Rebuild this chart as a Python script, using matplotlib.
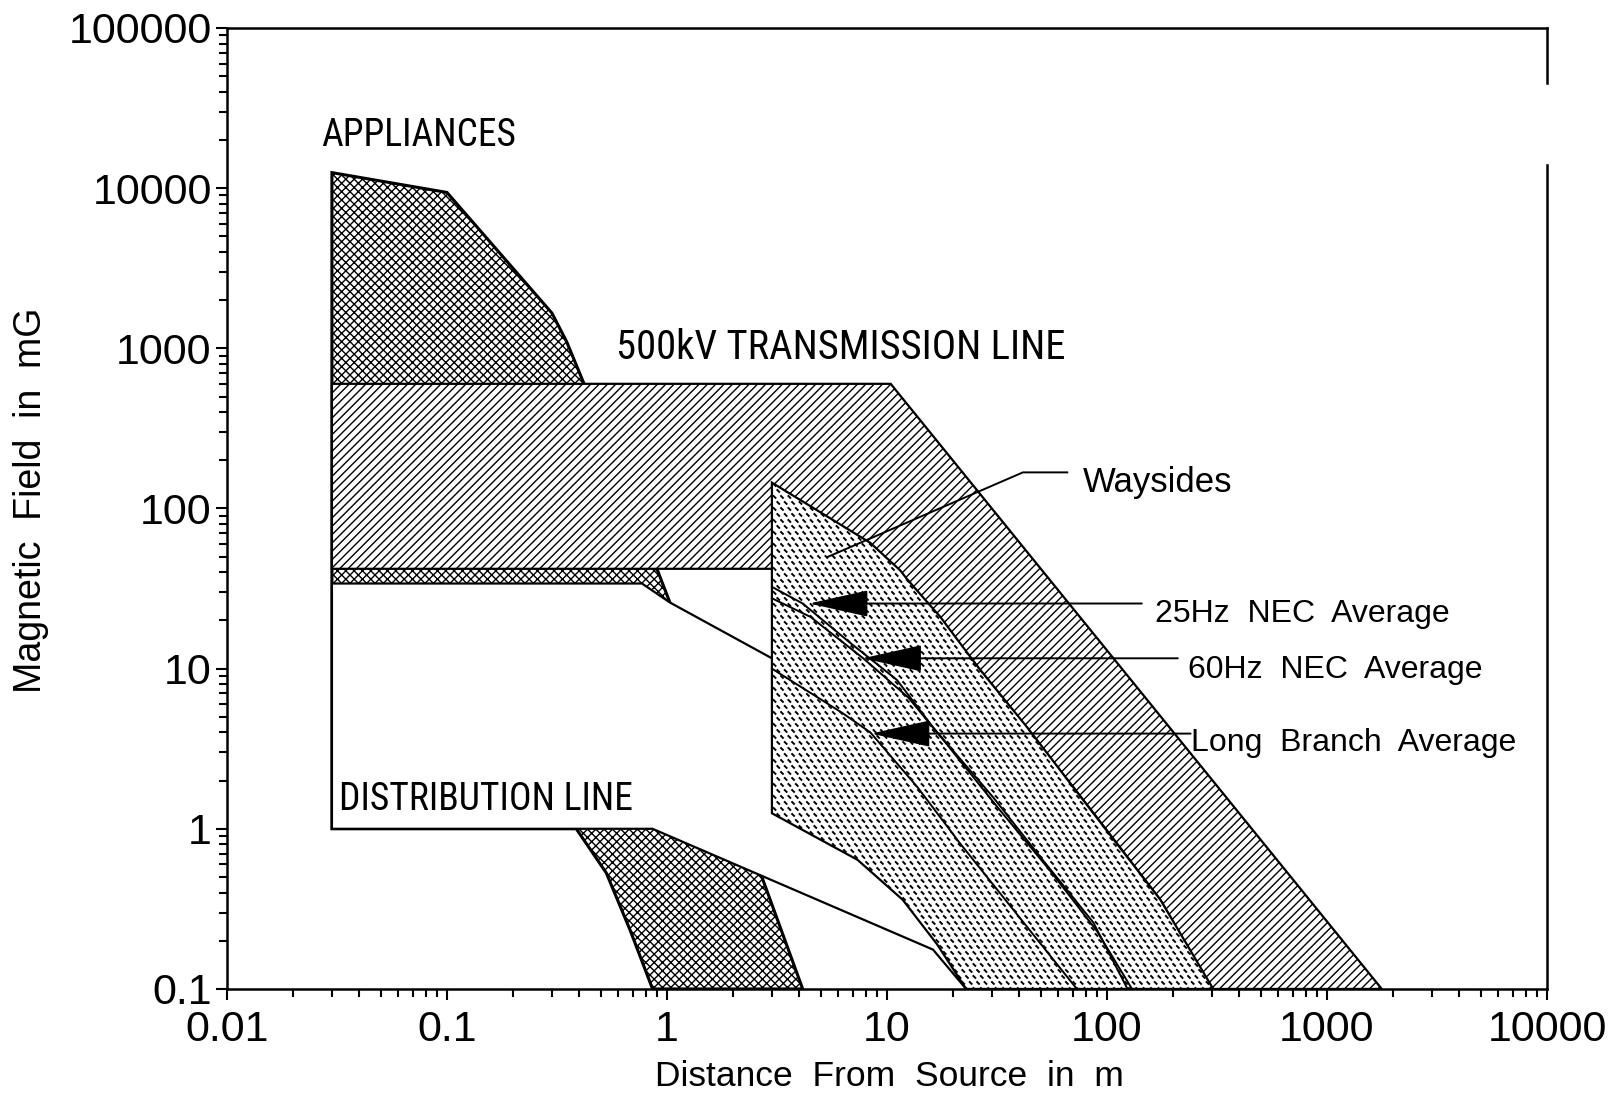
import numpy as np
import matplotlib
matplotlib.use("Agg")
import matplotlib.pyplot as plt
from matplotlib import font_manager
from matplotlib.collections import LineCollection

plt.rcParams['font.family'] = ['Liberation Sans', 'DejaVu Sans']
plt.rcParams['hatch.linewidth'] = 1.0

# field bands, distance in m, field in mG
app_x = [0.03, 0.1, 0.3, 0.35, 0.42, 0.6, 0.90, 1.03, 2.66, 4.14, 0.86, 0.68, 0.53, 0.387, 0.03]
app_y = [12500, 9400, 1660, 1100, 600, 150, 42, 26, 0.53, 0.1, 0.1, 0.233, 0.53, 1.0, 1.0]

trans_x = [0.03, 10.4, 1775, 300, 175, 87, 43, 26.4, 12.4, 8, 0.03]
trans_y = [600, 600, 0.1, 0.1, 0.36, 1.25, 4.3, 9.9, 35.9, 42, 42]

dist_x = [0.03, 0.77, 1.03, 3.0, 8, 20, 40, 22.9, 16.2, 0.86, 0.03]
dist_y = [34, 34, 25.9, 11.6, 4, 1, 0.1, 0.1, 0.176, 1.0, 1.0]

way_x = [3.0, 8.4, 11.5, 12.4, 17.5, 26.4, 43.4, 86.7, 175, 304, 22.9, 16.9, 11.8, 7.35, 3.0]
way_y = [145, 61, 41, 35.9, 21, 9.9, 4.3, 1.25, 0.36, 0.1, 0.1, 0.19, 0.36, 0.64, 1.25]

# average curves inside the wayside band
nec25_x = [3.0, 4.14, 6.8, 11.1, 16.2, 30.3, 51, 86.7, 124]
nec25_y = [32.4, 25.5, 14.5, 8.5, 4.3, 1.58, 0.64, 0.26, 0.1]
nec60_x = [3.0, 4.5, 7.8, 12.5, 18, 32, 55, 90, 130]
nec60_y = [27.5, 21, 11.6, 6.6, 3.6, 1.35, 0.55, 0.23, 0.1]
lb_x = [3.0, 6.25, 8.4, 13.8, 21.5, 40, 73]
lb_y = [10, 5.3, 4.0, 1.81, 0.81, 0.28, 0.1]

# arrow tips / label anchors
avg_labels = ['25Hz  NEC  Average', '60Hz  NEC  Average', 'Long  Branch  Average']
tip_x = [4.43, 7.76, 8.47]
tip_y = [25.5, 11.6, 3.93]
lead_x = [144, 210, 240]
text_x = [166, 234, 242]
text_y = [19.5, 8.75, 3.05]

way_lead_x = [66, 41.5, 5.37]
way_lead_y = [168, 168, 49.8]

xticks = [0.01, 0.1, 1, 10, 100, 1000, 10000]
xticklabels = ['0.01', '0.1', '1', '10', '100', '1000', '10000']
yticks = [0.1, 1, 10, 100, 1000, 10000, 100000]
yticklabels = ['0.1', '1', '10', '100', '1000', '10000', '100000']

# pick a narrow face for the band names if one is there
have = {f.name for f in font_manager.fontManager.ttflist}
narrow = 'Liberation Sans'
for nm in ['Liberation Sans Narrow', 'Roboto Condensed', 'DejaVu Sans Condensed', 'Open Sans Condensed']:
    if nm in have:
        narrow = nm
        break

fig = plt.figure(figsize=(16.2, 10.93), dpi=100)
ax = fig.add_axes([0.1401, 0.0952, 0.8148, 0.8792])
ax.set_xscale('log')
ax.set_yscale('log')
ax.set_xlim(0.01, 10000)
ax.set_ylim(0.1, 100000)

ax.fill(app_x, app_y, facecolor='white', edgecolor='black', hatch='xxxx', lw=2.2, zorder=1)
ax.fill(trans_x, trans_y, facecolor='white', edgecolor='black', hatch='////', lw=1.6, zorder=2)
ax.fill(dist_x, dist_y, facecolor='white', edgecolor='black', lw=1.6, zorder=3)
way = ax.fill(way_x, way_y, facecolor='white', edgecolor='black', lw=1.6, zorder=4)[0]

# short-dash texture for the wayside band (pixel grid in axes space)
W, H = ax.bbox.width, ax.bbox.height
gx = np.arange(0, W, 7.4)
gy = np.arange(0, H * 0.56, 6.0)
segs = []
for j, yy in enumerate(gy):
    off = 3.7 if j % 2 else 0.0
    for xx in gx + off:
        segs.append([((xx - 1.6) / W, (yy + 1.6) / H), ((xx + 1.6) / W, (yy - 1.6) / H)])
tex = LineCollection(segs, colors='black', linewidths=1.4, transform=ax.transAxes, zorder=4.2)
ax.add_collection(tex)
tex.set_clip_path(way)

ax.plot(nec25_x, nec25_y, color='black', lw=1.4, zorder=5)
ax.plot(nec60_x, nec60_y, color='black', lw=1.4, zorder=5)
ax.plot(lb_x, lb_y, color='black', lw=1.4, zorder=5)

for i in range(3):
    ax.annotate('', xy=(tip_x[i], tip_y[i]), xytext=(lead_x[i], tip_y[i]),
                arrowprops=dict(arrowstyle='-|>,head_length=3.8,head_width=0.85',
                                mutation_scale=10, color='black', lw=1.4,
                                shrinkA=0, shrinkB=0), zorder=6)
    ax.text(text_x[i], text_y[i], avg_labels[i], fontsize=23, ha='left', va='baseline', zorder=6)

ax.plot(way_lead_x, way_lead_y, color='black', lw=1.4, zorder=6)
ax.text(77.8, 127, 'Waysides', fontsize=25, ha='left', va='baseline', zorder=6)

band_txt = [
    ax.text(0.0268, 18400, 'APPLIANCES', fontsize=28, family=narrow, ha='left', va='baseline'),
    ax.text(0.585, 861, '500kV TRANSMISSION LINE', fontsize=28, family=narrow, ha='left', va='baseline'),
    ax.text(0.0322, 1.31, 'DISTRIBUTION LINE', fontsize=27, family=narrow, ha='left', va='baseline', zorder=6),
]
band_w = [196, 451, 294]  # widths in the reference, px
rend = fig.canvas.get_renderer()
for t, w in zip(band_txt, band_w):
    cur = t.get_window_extent(rend).width
    t.set_fontsize(t.get_fontsize() * w / cur)

ax.set_xticks(xticks)
ax.set_xticklabels(xticklabels)
ax.set_yticks(yticks)
ax.set_yticklabels(yticklabels)
ax.tick_params(which='major', direction='out', length=8, width=1.5, labelsize=31, pad=3)
ax.tick_params(which='minor', direction='out', length=6, width=1.5)
ax.tick_params(axis='x', which='major', pad=7)
ax.tick_params(axis='x', which='both', top=False)
ax.tick_params(axis='y', which='both', right=False)
for s in ax.spines.values():
    s.set_linewidth(1.8)

# right frame edge has a break near the top in the original
ax.spines['right'].set_visible(False)
ax.plot([1, 1], [0, 0.857], color='black', lw=1.8, transform=ax.transAxes, clip_on=False, zorder=7)
ax.plot([1, 1], [0.943, 1], color='black', lw=1.8, transform=ax.transAxes, clip_on=False, zorder=7)

fig.text(0.549, 0.006, 'Distance  From  Source  in  m', fontsize=25.5, ha='center', va='baseline')
fig.text(0.019, 0.542, 'Magnetic  Field  in  mG', fontsize=27, rotation=90, ha='center', va='center')

fig.savefig('out.png', dpi=100)
